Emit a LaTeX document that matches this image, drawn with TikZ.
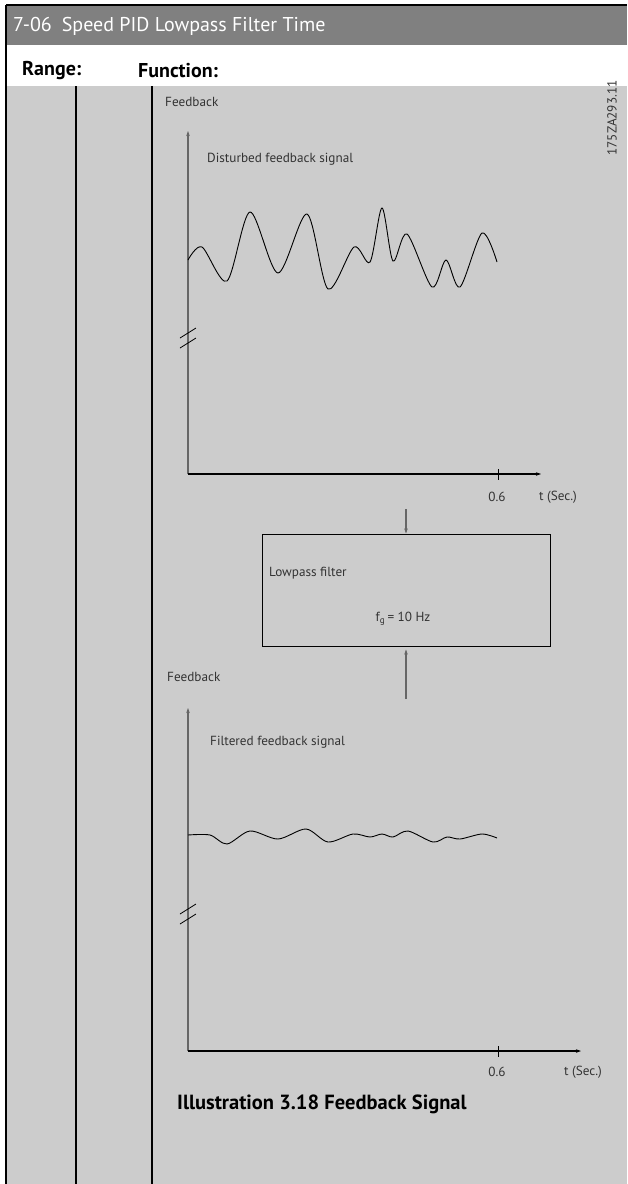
\documentclass[tikz,border=0pt]{standalone}
\usepackage{fontspec}
\setmainfont{PT Sans}
\usetikzlibrary{arrows.meta}
\definecolor{bodygray}{HTML}{CCCCCC}
\definecolor{headgray}{HTML}{808080}
\definecolor{axisgray}{HTML}{666666}
\definecolor{textgray}{HTML}{333333}
\tikzstyle{rulebar} = [draw=black, line width=1.6pt]
\tikzstyle{taxis} = [draw=black, line width=1.1pt, -{Stealth[length=5pt,width=3.5pt]}]
\tikzstyle{yaxis} = [draw=axisgray, line width=1.8pt, -{Stealth[length=5pt,width=3.5pt]}]
\tikzstyle{feed} = [draw=axisgray, line width=1.2pt, -{Stealth[length=5pt,width=3.5pt]}]
\tikzstyle{txt} = [inner sep=0pt, text=textgray, font=\fontsize{13.2}{15}\selectfont]
\tikzstyle{fbsignal} = [draw=black, line width=0.9pt, smooth, tension=0.5]
\tikzstyle{brk} = [draw=black, line width=0.8pt]
\tikzstyle{filterbox} = [draw=black, line width=1pt, minimum width=288pt,
    minimum height=112pt, inner sep=0pt]
\tikzstyle{headtxt} = [inner sep=0pt, anchor=west, font=\bfseries\fontsize{20}{22}\selectfont]

\begin{document}
\begin{tikzpicture}[x=1pt, y=-1pt]
    \useasboundingbox (0,0) rectangle (627,1184);
    % table frame
    \fill[white] (0,0) rectangle (627,1184);
    \fill[headgray] (6,5) rectangle (627,45);
    \fill[bodygray] (6,86) rectangle (627,1184);
    \draw[rulebar] (6,5) -- (627,5);
    \draw[rulebar] (6,5) -- (6,1184);
    \draw[rulebar] (76,86) -- (76,1184);
    \draw[rulebar] (152,86) -- (152,1184);
    \node[inner sep=0pt, anchor=west, text=white, font=\fontsize{20}{22}\selectfont]
        (title) at (13,26) {7-06\hspace{0.5em}Speed PID Lowpass Filter Time};
    \node[headtxt] (range) at (22,71) {Range:};
    \node[headtxt] (func) at (138,71) {Function:};

    % disturbed signal
    \coordinate (o1) at (188,474);
    \coordinate (ytop1) at (188,131);
    \coordinate (xend1) at (541,474);
    \draw[yaxis] (o1) -- (ytop1);
    \draw[taxis] (o1) -- (xend1);
    \draw[brk] (180,338) -- (196,328);
    \draw[brk] (180,348) -- (196,338);
    \draw[black, line width=1pt] (498,469) -- (498,480);
    \node[txt, anchor=west] (fb1) at (165,102) {Feedback};
    \node[txt, anchor=west] (dist) at (207,159) {Disturbed feedback signal};
    \node[txt] (six1) at (497,497) {0.6};
    \node[txt] (sec1) at (558,497) {t (Sec.)};
    \node[txt, rotate=90] (code) at (612,118) {175ZA293.11};
    \draw[fbsignal] plot coordinates {(188,260) (202,247) (227,281) (250,212)
        (278,273) (307,214) (328,289) (354,247) (370,262) (382,208) (393,261)
        (407,234) (432,287) (446,260) (460,287) (482,233) (497,262)};

    % lowpass filter
    \node[filterbox] (lpf) at (406,590) {};
    \node[txt, anchor=west] (lpftxt) at (269,573) {Lowpass filter};
    \node[txt] (fg) at (403,619) {f\textsubscript{g}\,= 10 Hz};
    \coordinate (inp) at (406,509);
    \coordinate (outp) at (406,699);
    \draw[feed] (inp) -- (lpf.north);
    \draw[feed, shorten >=3pt] (outp) -- (lpf.south);

    % filtered signal
    \coordinate (o2) at (188,1051);
    \coordinate (ytop2) at (188,708);
    \coordinate (xend2) at (581,1051);
    \draw[yaxis] (o2) -- (ytop2);
    \draw[taxis] (o2) -- (xend2);
    \draw[brk] (180,914) -- (196,904);
    \draw[brk] (180,924) -- (196,914);
    \draw[black, line width=1pt] (498,1046) -- (498,1057);
    \node[txt, anchor=west] (fb2) at (167,677) {Feedback};
    \node[txt, anchor=west] (filt) at (210,742) {Filtered feedback signal};
    \node[txt] (six2) at (497,1072) {0.6};
    \node[txt] (sec2) at (583,1072) {t (Sec.)};
    \draw[fbsignal] plot coordinates {(188,835) (210,835) (227,844) (250,831)
        (278,839) (306,829) (328,842) (353,834) (370,837) (382,834) (393,837)
        (408,831) (433,842) (447,837) (460,839) (482,834) (497,838)};

    \node[inner sep=0pt, anchor=west, font=\bfseries\fontsize{20.5}{23}\selectfont]
        (caption) at (177,1104) {Illustration 3.18 Feedback Signal};
\end{tikzpicture}
\end{document}
